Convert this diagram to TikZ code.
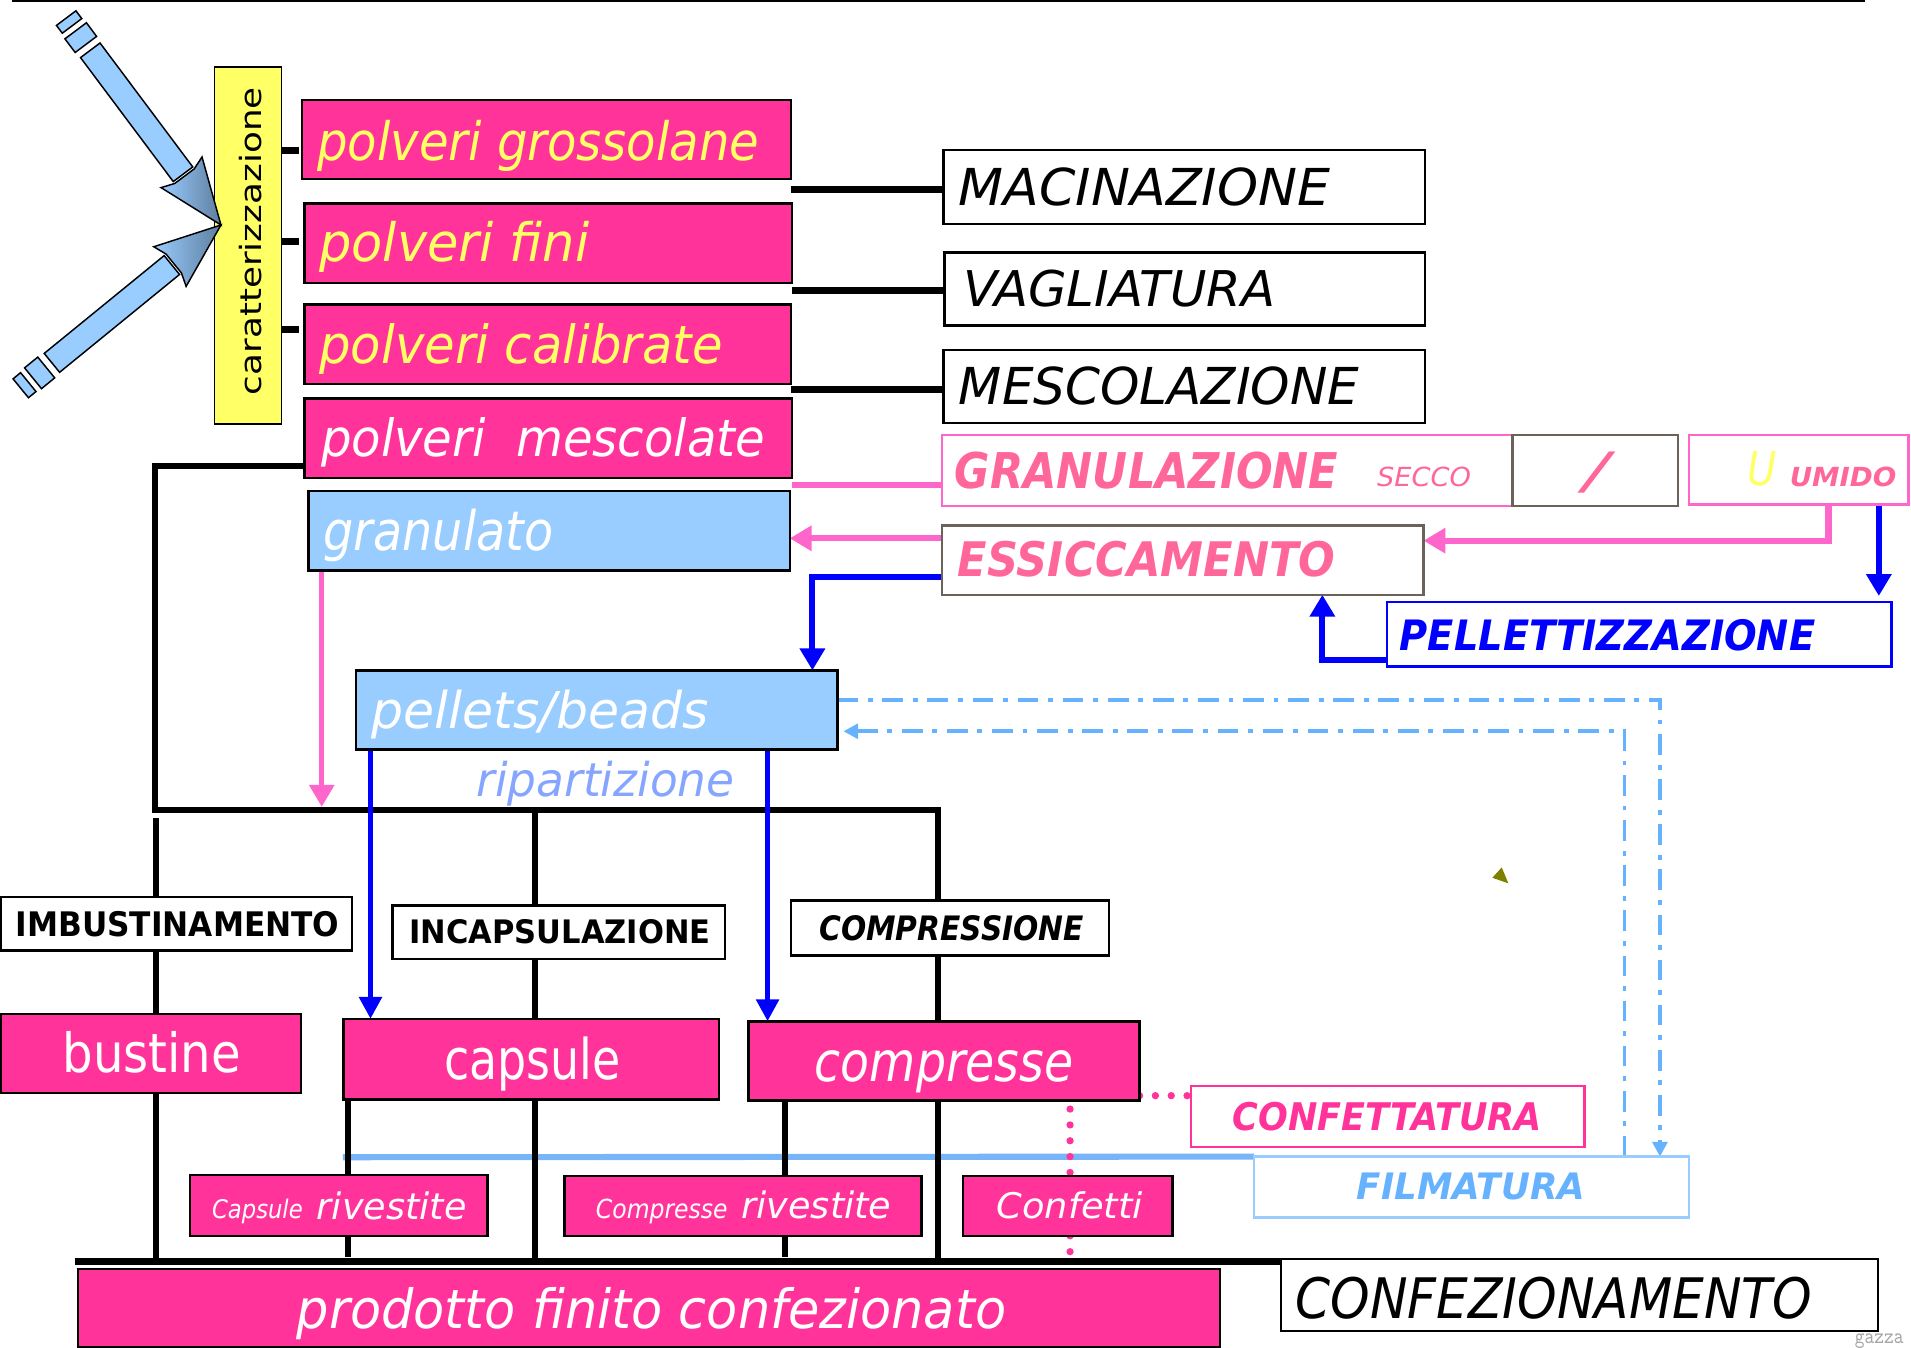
\documentclass[tikz,border=0pt]{standalone}
\usepackage{fontspec}
\setmainfont{DejaVu Sans}
\usepackage{graphicx}
\usetikzlibrary{arrows.meta}
\pgfdeclarelayer{bg}
\pgfsetlayers{bg,main}
\definecolor{pk}{HTML}{FF3399}
\definecolor{pkl}{HTML}{FF66CC}
\definecolor{pkt}{HTML}{FF6699}
\definecolor{yl}{HTML}{FFFF66}
\definecolor{lb}{HTML}{99CCFF}
\definecolor{lbd}{HTML}{66B2FF}
\definecolor{lbl}{HTML}{77B5F8}
\definecolor{bl}{HTML}{0000FF}
\definecolor{gy}{HTML}{6B6359}
\definecolor{rip}{HTML}{85A5FF}
\definecolor{ol}{HTML}{808000}
\definecolor{slate}{HTML}{5E7E9E}
\newcommand\T[3]{\resizebox{#1pt}{#2pt}{#3}}
\newcommand\bx[6]{\pgfmathsetmacro\bxw{#5-#3}\pgfmathsetmacro\bxh{#6-#4}%
  \node[#2,anchor=north west,minimum width=\bxw pt,minimum height=\bxh pt,inner sep=0pt,outer sep=0pt] (#1) at (#3,#4) {};}
\begin{document}
\begin{tikzpicture}[x=1pt,y=-1pt,
  pinkbox/.style={draw=black,fill=pk,line width=2pt},
  bluebox/.style={draw=black,fill=lb,line width=2pt},
  wbox/.style={draw=black,fill=white,line width=2pt},
  tl/.style={anchor=base west,inner sep=0pt,outer sep=0pt},
  blk/.style={line width=5pt,black,line join=miter},
  thk/.style={line width=6pt,black},
  pkline/.style={pkl,line width=5pt,line join=miter},
  blline/.style={bl,line width=5pt,line join=miter},
  bigtip/.style={-{Triangle[length=18pt,width=20pt]}},
  dd/.style={lbd,line width=3pt,dash pattern=on 17pt off 8pt on 4pt off 8pt,line join=miter},
  ddtip/.style={-{Triangle[length=12pt,width=12pt]}},
  dots/.style={pk,line width=6pt,line cap=round,dash pattern=on 0pt off 13pt},
  barrow/.style={fill=lb,draw=black,line width=1.2pt,line join=miter},
  bhead/.style={draw=black,line width=1.2pt,line join=miter,left color=lb,right color=slate}]
\useasboundingbox (0,0) rectangle (1568,1106);
\begin{pgfonlayer}{bg}
  \fill[white] (0,0) rectangle (1568,1106);
\end{pgfonlayer}

% ---------- boxes ----------
\bx{car}{draw=black,fill=yl,line width=1.5pt}{176}{55}{231}{348}
\bx{gross}{pinkbox}{248}{82}{649}{147}
\bx{fini}{pinkbox}{250}{167}{650}{232}
\bx{calib}{pinkbox}{250}{250}{649}{315}
\bx{mesc}{pinkbox}{250}{327}{650}{392}
\bx{mac}{wbox}{774}{123}{1169}{184}
\bx{vag}{wbox}{775}{207}{1169}{267}
\bx{mescz}{wbox}{774}{287}{1169}{347}
\bx{gran}{draw=pkl,fill=white,line width=2pt}{773}{357}{1299}{415}
\bx{slash}{draw=gy,fill=white,line width=2pt}{1241}{357}{1377}{415}
\bx{umido}{draw=pkl,fill=white,line width=2pt}{1386}{357}{1566}{414}
\bx{essi}{draw=gy,fill=white,line width=2pt}{773}{431}{1168}{488}
\bx{pell}{draw=bl,fill=white,line width=2pt}{1138}{494}{1552}{547}
\bx{granu}{bluebox}{253}{403}{648}{468}
\bx{pel}{bluebox}{292}{550}{687}{615}
\bx{imb}{wbox}{1}{736}{289}{780}
\bx{inc}{wbox}{322}{743}{595}{787}
\bx{comp}{wbox}{649}{739}{910}{784}
\bx{bus}{pinkbox}{1}{832}{247}{897}
\bx{cap}{pinkbox}{282}{836}{590}{902}
\bx{cmp}{pinkbox}{614}{838}{935}{903}
\bx{caprv}{pinkbox}{156}{964}{400}{1014}
\bx{cmprv}{pinkbox}{463}{965}{756}{1014}
\bx{conf}{pinkbox}{790}{965}{962}{1014}
\bx{confet}{draw=pk,fill=white,line width=2pt}{977}{891}{1300}{941}
\bx{film}{draw=lb,fill=white,line width=2pt}{1029}{949}{1386}{999}
\bx{prod}{pinkbox}{64}{1041}{1001}{1105}
\bx{confz}{wbox}{1051}{1033}{1541}{1092}

% ---------- texts ----------
\node[tl,rotate=90] (tcar) at (214.7,324.1) {\T{252.4}{18.3}{caratterizzazione}};
\node[tl,font=\itshape,text=yl] (tgross) at (260.2,131.3) {\T{362.8}{33}{polveri grossolane}};
\node[tl,font=\itshape,text=yl] (tfini) at (262,214.7) {\T{221.5}{33}{polveri fini}};
\node[tl,font=\itshape,text=yl] (tcalib) at (262,298.1) {\T{331}{32.8}{polveri calibrate}};
\node[tl,font=\itshape,text=white] (tmesc) at (263.4,374.7) {\T{364.4}{32}{polveri~~mescolate}};
\node[tl,font=\itshape] (tmac) at (786.8,169) {\T{304.6}{31}{MACINAZIONE}};
\node[tl,font=\itshape] (tvag) at (790.4,251.6) {\T{255.8}{30}{VAGLIATURA}};
\node[tl,font=\itshape] (tmescz) at (786.8,332) {\T{328.5}{31}{MESCOLAZIONE}};
\node[tl,font=\itshape\bfseries,text=pkt] (tgran) at (783.5,400.6) {\T{314.6}{30}{GRANULAZIONE}};
\node[tl,font=\itshape,text=pkt] (tsecco) at (1130,399.3) {\T{77}{16}{SECCO}};
\node[tl,font=\itshape,text=pkt] (tslash) at (1299,400.6) {\T{21}{30}{/}};
\node[tl,font=\itshape,text=yl] (tu) at (1434,398.5) {\T{24}{28}{U}};
\node[tl,font=\itshape\bfseries,text=pkt] (tumido) at (1468.5,399.3) {\T{87.5}{16}{UMIDO}};
\node[tl,font=\itshape\bfseries,text=pkt] (tessi) at (786,473.2) {\T{309.5}{29}{ESSICCAMENTO}};
\node[tl,font=\itshape\bfseries,text=bl] (tpell) at (1148.5,533.4) {\T{341}{25.5}{PELLETTIZZAZIONE}};
\node[tl,font=\itshape,text=white] (tgranu) at (265.6,451.3) {\T{188.4}{34}{granulato}};
\node[tl,font=\itshape,text=white] (tpel) at (305,597.6) {\T{276.8}{31.6}{pellets/beads}};
\node[tl,font=\itshape,text=rip] (trip) at (391,653.7) {\T{211.6}{29}{ripartizione}};
\node[tl,font=\bfseries] (timb) at (12.8,768.6) {\T{265.6}{20.6}{IMBUSTINAMENTO}};
\node[tl,font=\bfseries] (tinc) at (336,774) {\T{247}{19.7}{INCAPSULAZIONE}};
\node[tl,font=\itshape\bfseries] (tcomp) at (672.3,772) {\T{217.2}{20.5}{COMPRESSIONE}};
\node[tl,text=white] (tbus) at (51.3,880.2) {\T{146.5}{33.7}{bustine}};
\node[tl,text=white] (tcap) at (364.5,885.6) {\T{144.7}{35}{capsule}};
\node[tl,font=\itshape,text=white] (tcmp) at (668.6,887) {\T{212}{25.4}{compresse}};
\node[tl,font=\itshape,text=white] (tcaprv1) at (174,999.7) {\T{74.4}{16}{Capsule}};
\node[tl,font=\itshape,text=white] (tcaprv2) at (260,1000.5) {\T{122.8}{22.7}{rivestite}};
\node[tl,font=\itshape,text=white] (tcmprv1) at (489,999.7) {\T{108}{16}{Compresse}};
\node[tl,font=\itshape,text=white] (tcmprv2) at (608.4,999.7) {\T{123}{22.7}{rivestite}};
\node[tl,font=\itshape,text=white] (tconf) at (817.8,999.7) {\T{120}{22}{Confetti}};
\node[tl,font=\itshape\bfseries,text=pk] (tconfet) at (1011.3,927.2) {\T{253.7}{23.2}{CONFETTATURA}};
\node[tl,font=\itshape\bfseries,text=lbd] (tfilm) at (1113.4,984.6) {\T{187.3}{21.8}{FILMATURA}};
\node[tl,font=\itshape,text=white] (tprod) at (243.6,1090) {\T{582}{33.7}{prodotto finito confezionato}};
\node[tl,font=\itshape] (tconfz) at (1063,1081.7) {\T{423.6}{34}{CONFEZIONAMENTO}};
\node[tl,text=black!35,font=\ttfamily] (wm) at (1522,1102) {\T{40}{8}{gazza}};

% ---------- block arrows ----------
\begin{scope}[shift={(181.3,184.6)},rotate=-53.2]
  \filldraw[barrow] (-52,10) -- (-179,10) -- (-179,-10) -- (-52,-10) -- cycle;
  \shade[bhead] (0,0) -- (-54,21) -- (-50,10) -- (-50,-10) -- (-54,-21) -- cycle;
  \filldraw[barrow] (-185,-11) rectangle (-199,11);
  \filldraw[barrow] (-204,-10) rectangle (-212,10);
\end{scope}
\begin{scope}[shift={(181.3,184.6)},rotate=39.2]
  \filldraw[barrow] (-52,10) -- (-179,10) -- (-179,-10) -- (-52,-10) -- cycle;
  \shade[bhead] (0,0) -- (-54,21) -- (-50,10) -- (-50,-10) -- (-54,-21) -- cycle;
  \filldraw[barrow] (-185,-11) rectangle (-199,11);
  \filldraw[barrow] (-204,-10) rectangle (-212,10);
\end{scope}

\fill[ol] (1232.2,711.7) -- (1224.5,720.2) -- (1237.6,724.8) -- cycle;

% ---------- connectors ----------
\begin{pgfonlayer}{bg}
  \draw[line width=1.5pt] (10,0.8) -- (1530,0.8);
  \foreach \yy in {123.6,198.3,270.2}
    \draw[thk,shorten >=3pt] (car.east |- 0,\yy) -- (gross.west |- 0,\yy);
  \draw[thk] (gross.east |- 0,155.4) -- (mac.west |- 0,155.4);
  \draw[thk] (fini.east |- 0,238.5) -- (vag.west |- 0,238.5);
  \draw[thk] (calib.east |- 0,319.5) -- (mescz.west |- 0,319.5);
  % pink flow
  \draw[pkline] (mesc.east |- 0,398) -- (gran.west |- 0,398);
  \draw[pkline,bigtip] (essi.west |- 0,441.7) -- (granu.east |- 0,441.7);
  \draw[pkline,bigtip] (umido.south -| 1500.3,0) -- (1500.3,443.6) -- (essi.east |- 0,443.6);
  \draw[pkl,line width=4pt,bigtip] (granu.south -| 264,0) -- (264,662);
  % light blue filmatura line
  \draw[lbl,line width=5pt] (281.3,949.5) -- (film.north west);
  % black tree
  \draw[blk] (mesc.west |- 0,382) -- (127.4,382) -- (127.4,664.6) -- (770,664.6) -- (770,1034);
  \draw[blk] (128,671) -- (128,1034);
  \draw[blk] (439,664.6) -- (439,1034);
  \draw[blk] (cap.south -| 285.6,0) -- (285.6,1031);
  \draw[blk] (cmp.south -| 644,0) -- (644,1031);
  \draw[thk] (61.5,1035) -- (confz.west |- 0,1035);
  % blue flow
  \draw[blline,bigtip] (essi.west |- 0,473.2) -- (666.6,473.2) -- (pel.north -| 666.6,0);
  \draw[blline,bigtip,shorten >=5pt] (umido.south -| 1541.6,0) -- (pell.north -| 1541.6,0);
  \draw[blline,bigtip] (pell.west |- 0,541.6) -- (1085,541.6) -- (essi.south -| 1085,0);
  \draw[bl,line width=4.5pt,-{Triangle[length=18pt,width=18pt]}] (pel.south -| 304,0) -- (cap.north -| 304,0);
  \draw[bl,line width=4.5pt,-{Triangle[length=18pt,width=18pt]}] (pel.south -| 629.8,0) -- (cmp.north -| 629.8,0);
  % dash-dot loops
  \draw[dd,ddtip] (pel.east |- 0,574.4) -- (1362,574.4) -- (film.north -| 1362,0);
  \draw[dd,ddtip,shorten >=5pt] (film.north -| 1333,0) -- (1333,600) -- (pel.east |- 0,600);
  % dotted confettatura
  \draw[dots] (cmp.east |- 0,899) -- (confet.west |- 0,899);
  \draw[dots] (878,910) -- (878,1036);
\end{pgfonlayer}
\end{tikzpicture}
\end{document}
